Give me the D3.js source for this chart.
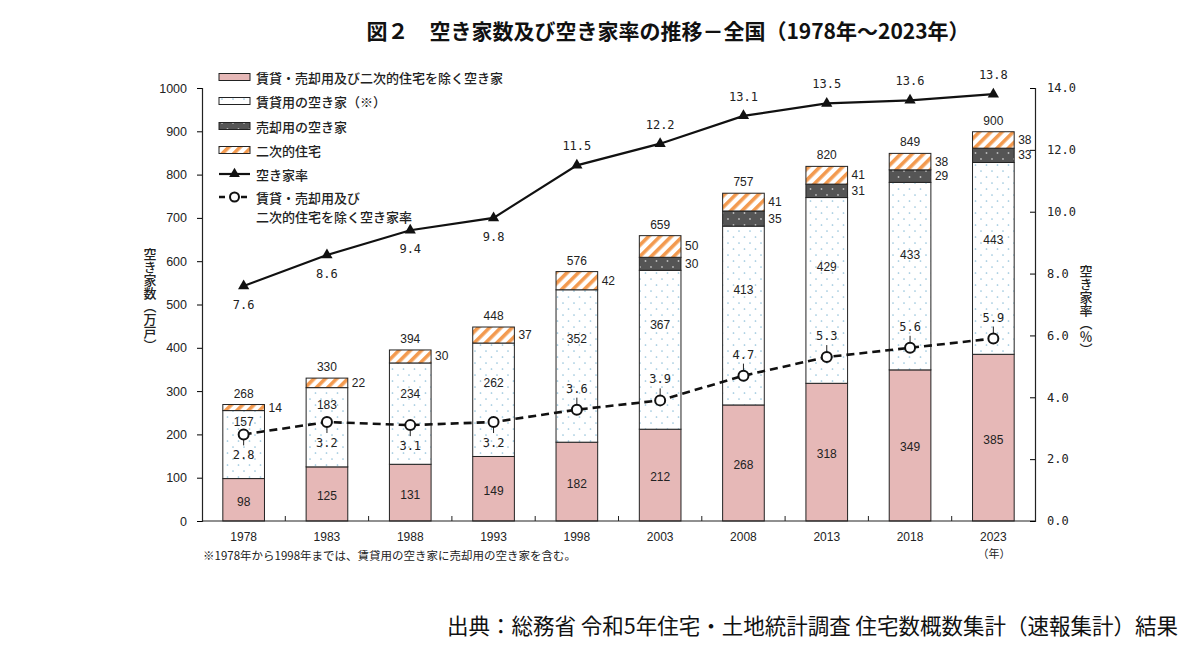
<!DOCTYPE html>
<html><head><meta charset="utf-8">
<script src="https://cdn.jsdelivr.net/npm/d3@7/dist/d3.min.js"></script>
<style>
body{margin:0;background:#fff;}
svg{display:block;}
</style></head>
<body><svg id="c" width="1200" height="653"></svg>
<script>
const years = ["1978","1983","1988","1993","1998","2003","2008","2013","2018","2023"];
const otherVac = [98,125,131,149,182,212,268,318,349,385];
const rentalVac = [157,183,234,262,352,367,413,429,433,443];
const saleVac = [0,0,0,0,0,30,35,31,29,33];
const secondVac = [14,22,30,37,42,50,41,41,38,38];
const totals = [268,330,394,448,576,659,757,820,849,900];
const vacRate = [7.6,8.6,9.4,9.8,11.5,12.2,13.1,13.5,13.6,13.8];
const otherRate = [2.8,3.2,3.1,3.2,3.6,3.9,4.7,5.3,5.6,5.9];
const leftTicks = [0,100,200,300,400,500,600,700,800,900,1000];
const rightTicks = [0,2,4,6,8,10,12,14];
const legendItems = ["賃貸・売却用及び二次的住宅を除く空き家","賃貸用の空き家（※）","売却用の空き家","二次的住宅","空き家率","賃貸・売却用及び","二次的住宅を除く空き家率"];

const svg = d3.select("#c");
const JP = "'Noto Sans CJK JP','Noto Sans',sans-serif";
const NUM = "'Liberation Sans',Arial,sans-serif";
const MONO = "'DejaVu Sans Mono',monospace";

// patterns
const defs = svg.append("defs");
const pDot = defs.append("pattern").attr("id","pRent").attr("patternUnits","userSpaceOnUse").attr("width",11).attr("height",12);
pDot.append("rect").attr("width",11).attr("height",12).attr("fill","#fff");
pDot.append("circle").attr("cx",2).attr("cy",3).attr("r",0.85).attr("fill","#96c4dc");
pDot.append("circle").attr("cx",7.5).attr("cy",9).attr("r",0.85).attr("fill","#96c4dc");
const pSale = defs.append("pattern").attr("id","pSale").attr("patternUnits","userSpaceOnUse").attr("width",11).attr("height",12);
pSale.append("rect").attr("width",11).attr("height",12).attr("fill","#555");
pSale.append("circle").attr("cx",2).attr("cy",3).attr("r",0.9).attr("fill","#bbb");
pSale.append("circle").attr("cx",7.5).attr("cy",9).attr("r",0.9).attr("fill","#bbb");
const pSec = defs.append("pattern").attr("id","pSec").attr("patternUnits","userSpaceOnUse").attr("width",8).attr("height",8).attr("patternTransform","rotate(45)");
pSec.append("rect").attr("width",8).attr("height",8).attr("fill","#fff");
pSec.append("rect").attr("width",3.6).attr("height",8).attr("fill","#f39a4f");
const fills = {other:"#e6b8b7", rental:"url(#pRent)", sale:"url(#pSale)", second:"url(#pSec)"};

// scales
const x = d3.scaleBand().domain(years).range([202,1035]).paddingInner(0.5).paddingOuter(0.25);
const y = d3.scaleLinear().domain([0,1000]).range([521,88]);
const yR = d3.scaleLinear().domain([0,14]).range([521,88]);

// title
svg.append("text").attr("x",668).attr("y",39).attr("text-anchor","middle")
  .attr("font-family",JP).attr("font-size",21).attr("font-weight","bold").attr("fill","#111")
  .text("図２　空き家数及び空き家率の推移－全国（1978年～2023年）");

// data table
const table = years.map((yr,i)=>({year:yr, other:otherVac[i], rental:rentalVac[i], sale:saleVac[i], second:secondVac[i]}));
const keys = ["other","rental","sale","second"];
const series = d3.stack().keys(keys)(table);

const gBars = svg.append("g");
series.forEach(s=>{
  gBars.selectAll(null).data(s.filter(d=>d[1]-d[0]>0)).join("rect")
    .attr("x",d=>x(d.data.year)).attr("width",x.bandwidth())
    .attr("y",d=>y(d[1])).attr("height",d=>y(d[0])-y(d[1]))
    .attr("fill",fills[s.key]).attr("stroke","#222").attr("stroke-width",1);
});

// axes
const axB = svg.append("g").attr("transform","translate(0,521)");
axB.append("line").attr("x1",202).attr("x2",1035).attr("stroke","#222").attr("stroke-width",1.2);
const bounds = years.map(yr=>x(yr)-x.step()*x.paddingInner()/2).slice(1);
axB.selectAll(null).data(bounds).join("line").attr("x1",d=>d).attr("x2",d=>d).attr("y1",0).attr("y2",-5).attr("stroke","#222");
axB.selectAll(null).data(years).join("text").attr("x",d=>x(d)+x.bandwidth()/2).attr("y",20)
  .attr("text-anchor","middle").attr("font-family",NUM).attr("font-size",12).attr("fill","#222").text(d=>d);

const axL = svg.append("g").attr("transform","translate(202,0)")
  .call(d3.axisLeft(y).tickValues(leftTicks).tickSize(5).tickPadding(10).tickFormat(d3.format("d")));
axL.select(".domain").attr("stroke","#222").attr("stroke-width",1.2);
axL.selectAll("text").attr("font-family",NUM).attr("font-size",12.5).attr("fill","#222");
const axR = svg.append("g").attr("transform","translate(1035,0)")
  .call(d3.axisRight(yR).tickValues(rightTicks).tickSize(-5).tickPadding(12).tickFormat(d3.format(".1f")));
axR.select(".domain").attr("stroke","#222").attr("stroke-width",1.2);
axR.selectAll("text").attr("font-family",MONO).attr("font-size",12).attr("fill","#222");

// axis titles
svg.append("text").attr("transform","translate(150,300)").attr("writing-mode","tb")
  .attr("text-anchor","middle").attr("font-family",JP).attr("font-size",13).attr("font-weight","500").attr("fill","#222")
  .text("空き家数（万戸）");
svg.append("text").attr("transform","translate(1086,310)").attr("writing-mode","tb")
  .attr("text-anchor","middle").attr("font-family",JP).attr("font-size",13).attr("font-weight","500").attr("fill","#222")
  .text("空き家率（％）");

// lines
const cx = i=>x(years[i])+x.bandwidth()/2;
svg.append("path").datum(vacRate).attr("fill","none").attr("stroke","#111").attr("stroke-width",2.2)
  .attr("d",d3.line().x((d,i)=>cx(i)).y(d=>yR(d)));
svg.selectAll(null).data(vacRate).join("path")
  .attr("transform",(d,i)=>`translate(${cx(i)},${yR(d)})`)
  .attr("d",d3.symbol(d3.symbolTriangle,55)).attr("fill","#111");
svg.append("path").datum(otherRate).attr("fill","none").attr("stroke","#111").attr("stroke-width",2.6)
  .attr("stroke-dasharray","8,5").attr("d",d3.line().x((d,i)=>cx(i)).y(d=>yR(d)));

// labels
const lbl = (g,xv,yv,t,anchor,font,size)=>g.append("text").attr("x",xv).attr("y",yv).attr("text-anchor",anchor||"middle")
  .attr("dominant-baseline","central").attr("font-family",font||NUM).attr("font-size",size||12).attr("fill","#222").text(t);
const gL = svg.append("g");
years.forEach((yr,i)=>{
  const bx = x(yr), bw = x.bandwidth(), c = bx+bw/2, r = bx+bw;
  const s0 = series[0][i], s1 = series[1][i], s2 = series[2][i], s3 = series[3][i];
  lbl(gL,c,(y(s0[0])+y(s0[1]))/2+2,otherVac[i]);
  const cy = yR(otherRate[i]);
  const below = i<4;
  const ly = below ? cy+21 : cy-21;
  gL.append("line").attr("x1",c).attr("x2",c).attr("y1",cy).attr("y2",below?cy+11:cy-12).attr("stroke","#222").attr("stroke-width",1);
  lbl(gL,c,ly,otherRate[i].toFixed(1),"middle",MONO,12);
  const rentY = below ? (cy+y(s1[1]))/2 : (ly+y(s1[1]))/2;
  lbl(gL,c,rentY,rentalVac[i]);
  if(saleVac[i]>0) lbl(gL,r+4,(y(s2[0])+y(s2[1]))/2,saleVac[i],"start");
  lbl(gL,r+4,(y(s3[0])+y(s3[1]))/2,secondVac[i],"start");
  lbl(gL,c,y(s3[1])-11,totals[i]);
  const ty = yR(vacRate[i]);
  lbl(gL,c,i<4?ty+19:ty-19,vacRate[i].toFixed(1),"middle",MONO,12);
});
svg.selectAll(null).data(otherRate).join("circle").attr("cx",(d,i)=>cx(i)).attr("cy",d=>yR(d)).attr("r",5)
  .attr("fill","#fff").attr("stroke","#111").attr("stroke-width",2);

// legend
const lg = svg.append("g").attr("font-family",JP).attr("font-size",13).attr("fill","#222");
const ly0 = [77,101,126,150,174,197,216];
const sw = [fills.other,fills.rental,fills.sale,fills.second];
sw.forEach((f,i)=>{
  lg.append("rect").attr("x",219).attr("y",ly0[i]-3.5).attr("width",31).attr("height",7).attr("fill",f).attr("stroke","#222").attr("stroke-width",1);
});
lg.append("line").attr("x1",219).attr("x2",250).attr("y1",ly0[4]).attr("y2",ly0[4]).attr("stroke","#111").attr("stroke-width",2.2);
lg.append("path").attr("transform",`translate(234.5,${ly0[4]})`).attr("d",d3.symbol(d3.symbolTriangle,50)).attr("fill","#111");
lg.append("line").attr("x1",219).attr("x2",252).attr("y1",ly0[5]).attr("y2",ly0[5]).attr("stroke","#111").attr("stroke-width",2.6).attr("stroke-dasharray","6,5");
lg.append("circle").attr("cx",234.5).attr("cy",ly0[5]).attr("r",4.5).attr("fill","#fff").attr("stroke","#111").attr("stroke-width",2);
legendItems.forEach((t,i)=>{
  lg.append("text").attr("x",256).attr("y",ly0[i]).attr("dominant-baseline","central").attr("font-weight","500").text(t);
});

// footnote & unit
svg.append("text").attr("x",994).attr("y",558).attr("text-anchor","middle").attr("font-family",JP).attr("font-size",11).attr("fill","#222").text("（年）");
svg.append("text").attr("x",203).attr("y",560).attr("font-family",JP).attr("font-size",11.5).attr("fill","#222")
  .text("※1978年から1998年までは、賃貸用の空き家に売却用の空き家を含む。");
svg.append("text").attr("x",1178).attr("y",634).attr("text-anchor","end").attr("font-family",JP).attr("font-size",21.5).attr("fill","#111")
  .text("出典：総務省 令和5年住宅・土地統計調査 住宅数概数集計（速報集計）結果");
</script></body></html>
